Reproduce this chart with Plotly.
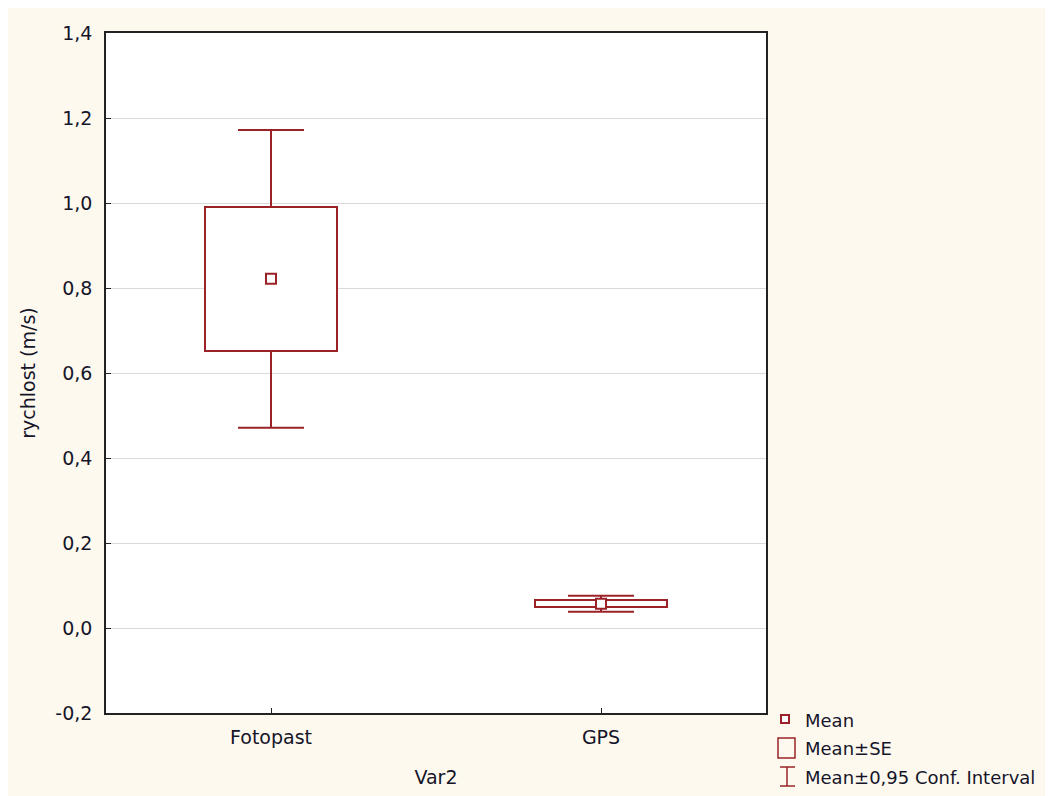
import plotly.graph_objects as go

categories = ["Fotopast", "GPS"]
means = [0.8215, 0.057]
se_low = [0.652, 0.049]
se_high = [0.991, 0.065]
ci_low = [0.471, 0.038]
ci_high = [1.172, 0.076]
y_ticks = [-0.2, 0.0, 0.2, 0.4, 0.6, 0.8, 1.0, 1.2, 1.4]
y_ticktext = ["-0,2", "0,0", "0,2", "0,4", "0,6", "0,8", "1,0", "1,2", "1,4"]

RED = "#9b2328"
BG = "#fef9ee"
FONT = "DejaVu Sans, Verdana, sans-serif"
TXT = "#15152a"
box_w = 0.4
cap_half = 0.1

xs = list(range(len(categories)))

fig = go.Figure()

# SE boxes
fig.add_trace(go.Bar(
    x=xs, base=se_low, y=[h - l for h, l in zip(se_high, se_low)],
    width=box_w, marker=dict(color="white", line=dict(color=RED, width=2)),
    showlegend=False, hoverinfo="skip"))

# CI whiskers
wx, wy = [], []
for i in xs:
    wx += [i, i, None, i - cap_half, i + cap_half, None,
           i, i, None, i - cap_half, i + cap_half, None]
    wy += [se_high[i], ci_high[i], None, ci_high[i], ci_high[i], None,
           se_low[i], ci_low[i], None, ci_low[i], ci_low[i], None]
fig.add_trace(go.Scatter(x=wx, y=wy, mode="lines",
                         line=dict(color=RED, width=2),
                         showlegend=False, hoverinfo="skip"))

# Means
fig.add_trace(go.Scatter(x=xs, y=means, mode="markers",
                         marker=dict(symbol="square", size=10, color="white",
                                     line=dict(color=RED, width=2)),
                         showlegend=False))

# page has an 8px body margin; target plot area in screenshot pixels
OFF = 8
L, R, T, B = 106, 766, 33, 713
W, H = 1053, 796


def px(x):
    return (x - L) / (R - L)


def py(y):
    return (B - y) / (B - T)


shapes = [
    # Mean symbol
    dict(type="rect", xref="paper", yref="paper",
         x0=px(781), x1=px(789), y0=py(723), y1=py(715),
         line=dict(color=RED, width=2), fillcolor="white"),
    # SE symbol
    dict(type="rect", xref="paper", yref="paper",
         x0=px(778), x1=px(795), y0=py(758), y1=py(738),
         line=dict(color=RED, width=1.5), fillcolor=BG),
    # CI symbol
    dict(type="line", xref="paper", yref="paper",
         x0=px(787), x1=px(787), y0=py(767), y1=py(786),
         line=dict(color=RED, width=1.5)),
    dict(type="line", xref="paper", yref="paper",
         x0=px(780), x1=px(795), y0=py(767), y1=py(767),
         line=dict(color=RED, width=1.5)),
    dict(type="line", xref="paper", yref="paper",
         x0=px(780), x1=px(795), y0=py(786), y1=py(786),
         line=dict(color=RED, width=1.5)),
]

legend_texts = ["Mean", "Mean±SE", "Mean±0,95 Conf. Interval"]
legend_ys = [720, 748, 777]
annotations = []
for t, yy in zip(legend_texts, legend_ys):
    annotations.append(dict(text=t, xref="paper", yref="paper",
                            x=px(803), y=py(yy), xanchor="left", yanchor="middle",
                            showarrow=False, font=dict(size=18, color=TXT, family=FONT)))

fig.update_layout(
    width=W, height=H,
    margin=dict(l=L - OFF, r=W + OFF - R, t=T - OFF, b=H + OFF - B),
    paper_bgcolor=BG, plot_bgcolor="white",
    font=dict(family=FONT, size=19, color=TXT),
    shapes=shapes, annotations=annotations,
    bargap=0, showlegend=False,
    xaxis=dict(range=[-0.5, 1.5], tickvals=xs, ticktext=categories,
               showgrid=False, zeroline=False, showline=True, mirror=True,
               linecolor="#222", linewidth=1.5, ticks="inside", ticklen=5,
               tickcolor="#222",
               title=dict(text="Var2", standoff=24, font=dict(size=19, family=FONT, color=TXT)),
               ticklabelstandoff=6),
    yaxis=dict(range=[-0.2, 1.4], tickvals=y_ticks, ticktext=y_ticktext,
               showgrid=True, gridcolor="#dadada", gridwidth=1, zeroline=False,
               showline=True, mirror=True, linecolor="#222", linewidth=1.5,
               ticks="inside", ticklen=5, tickcolor="#222",
               title=dict(text="rychlost (m/s)", standoff=15, font=dict(size=19, family=FONT, color=TXT)),
               ticklabelstandoff=8),
)

fig.write_html("out.html")
